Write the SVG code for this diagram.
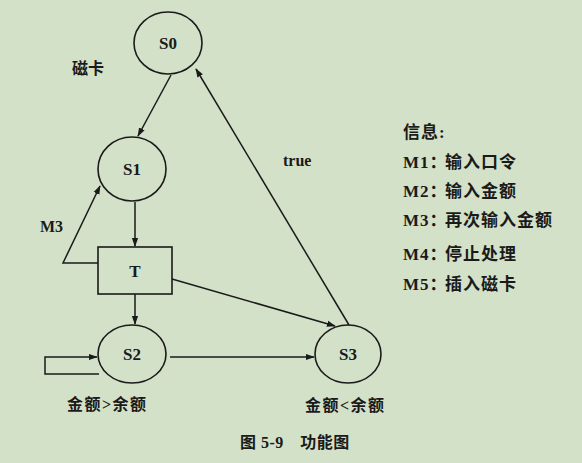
<svg xmlns="http://www.w3.org/2000/svg" width="582" height="463" viewBox="0 0 582 463">
<style>
.node{fill:none;stroke:#1a1a1a;stroke-width:1.6}
.edge{fill:none;stroke:#1a1a1a;stroke-width:1.5}
.lbl{font-family:"Liberation Serif","Noto Sans CJK SC",serif;font-weight:bold;fill:#1a1a1a}
.nl{font-size:17px;text-anchor:middle}
.cj{font-family:"Liberation Serif","Noto Sans CJK SC",sans-serif;font-weight:bold;fill:#1a1a1a;font-size:16px}
.lg{font-size:17px;letter-spacing:1px}
</style>
<defs>
<marker id="arr" viewBox="0 0 10 10" refX="9" refY="5" markerWidth="9" markerHeight="9" markerUnits="userSpaceOnUse" orient="auto">
<path d="M0,1.5 L10,5 L0,8.5 Z" fill="#1a1a1a"/>
</marker>
</defs>
<rect width="582" height="463" fill="#d3e1c8"/>
<g id="connectors">
<path class="edge" d="M171,75 L138,136" marker-end="url(#arr)"/>
<path class="edge" d="M349,325 L196,69" marker-end="url(#arr)"/>
<path class="edge" d="M98,263 L63,263 L100,186" marker-end="url(#arr)"/>
<path class="edge" d="M135,202 L135,246" marker-end="url(#arr)"/>
<path class="edge" d="M135,294 L135,324" marker-end="url(#arr)"/>
<path class="edge" d="M172,279 L335,326" marker-end="url(#arr)"/>
<path class="edge" d="M170,357 L314,357" marker-end="url(#arr)"/>
<path class="edge" d="M99,374 L45,374 L45,357 L97,357" marker-end="url(#arr)"/>
</g>
<g id="S0"><ellipse class="node" cx="168" cy="43" rx="34" ry="31"/><text class="lbl nl" x="168" y="49">S0</text></g>
<g id="S1"><ellipse class="node" cx="132" cy="169" rx="34" ry="32"/><text class="lbl nl" x="132" y="175">S1</text></g>
<g id="T"><rect class="node" x="98" y="247" width="74" height="47"/><text class="lbl nl" x="135" y="277">T</text></g>
<g id="S2"><ellipse class="node" cx="132" cy="354" rx="34" ry="29"/><text class="lbl nl" x="132" y="360">S2</text></g>
<g id="S3"><ellipse class="node" cx="348" cy="354" rx="33" ry="29"/><text class="lbl nl" x="348" y="360">S3</text></g>
<g id="labels">
<text class="cj" x="72" y="74" font-size="17">磁卡</text>
<text class="lbl" x="283" y="166" font-size="16">true</text>
<text class="lbl" x="40" y="232" font-size="16">M3</text>
<text class="cj" x="67" y="410" letter-spacing="1.5">金额&gt;余额</text>
<text class="cj" x="305" y="411" letter-spacing="1.5">金额&lt;余额</text>
<text class="cj" x="240" y="448" font-size="16" letter-spacing="0.5">图 5-9　功能图</text>
</g>
<g id="legend">
<text class="cj lg" x="403" y="138">信息:</text>
<text class="cj lg" x="403" y="168">M1：<tspan x="445">输入口令</tspan></text>
<text class="cj lg" x="403" y="197">M2：<tspan x="445">输入金额</tspan></text>
<text class="cj lg" x="403" y="226">M3：<tspan x="445">再次输入金额</tspan></text>
<text class="cj lg" x="403" y="260">M4：<tspan x="445">停止处理</tspan></text>
<text class="cj lg" x="403" y="290">M5：<tspan x="445">插入磁卡</tspan></text>
</g>
</svg>
